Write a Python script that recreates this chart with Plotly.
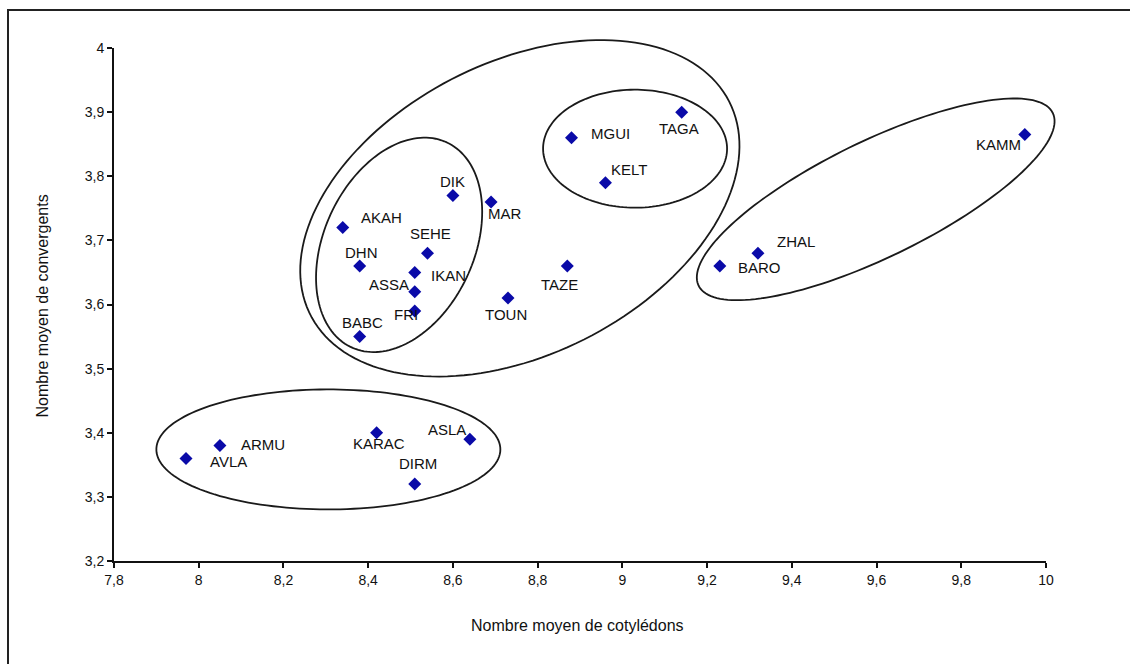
import numpy as np
import plotly.graph_objects as go

# Populations: mean cotyledon count vs mean convergent count
populations = ["AVLA", "ARMU", "KARAC", "ASLA", "DIRM",
               "DIK", "MAR", "AKAH", "SEHE", "DHN", "IKAN", "ASSA", "FRI", "BABC",
               "TOUN", "TAZE", "MGUI", "TAGA", "KELT", "KAMM", "ZHAL", "BARO"]
cotyledons = [7.97, 8.05, 8.42, 8.64, 8.51,
              8.60, 8.69, 8.34, 8.54, 8.38, 8.51, 8.51, 8.51, 8.38,
              8.73, 8.87, 8.88, 9.14, 8.96, 9.95, 9.32, 9.23]
convergents = [3.36, 3.38, 3.40, 3.39, 3.32,
               3.77, 3.76, 3.72, 3.68, 3.66, 3.65, 3.62, 3.59, 3.55,
               3.61, 3.66, 3.86, 3.90, 3.79, 3.865, 3.68, 3.66]

x_ticks = [7.8, 8.0, 8.2, 8.4, 8.6, 8.8, 9.0, 9.2, 9.4, 9.6, 9.8, 10.0]
y_ticks = [3.2, 3.3, 3.4, 3.5, 3.6, 3.7, 3.8, 3.9, 4.0]

# Label offsets from each marker, in pixels (dx right, dy up)
LABEL_SHIFT = {
    "AVLA": (42, -3), "ARMU": (43, 1), "KARAC": (2, -11), "ASLA": (-23, 10),
    "DIRM": (3, 21), "DIK": (0, 14), "MAR": (14, -12), "AKAH": (39, 10),
    "SEHE": (3, 20), "DHN": (2, 14), "IKAN": (34, -3), "ASSA": (-26, 7),
    "FRI": (-9, -4), "BABC": (3, 14), "TOUN": (-2, -16), "TAZE": (-8, -18),
    "MGUI": (39, 4), "TAGA": (-3, -16), "KELT": (24, 13), "KAMM": (-26, -10),
    "ZHAL": (38, 12), "BARO": (40, -1),
}

# Group outlines: centre (data units), semi-axes (pixels), tilt (degrees)
GROUPS = [
    (8.758, 3.750, 235, 146, 27),
    (8.473, 3.693, 113, 75, 65),
    (9.030, 3.843, 92, 59, 0),
    (9.598, 3.764, 197, 58, 26),
    (8.306, 3.374, 172, 60, 0),
]

W, H = 1130, 664
M_L, M_R, M_T, M_B = 114, 84, 48, 103
PW, PH = W - M_L - M_R, H - M_T - M_B
X_RANGE = (7.8, 10.0)
Y_RANGE = (3.2, 4.0)


def ellipse_path(cx, cy, a, b, ang, n=160):
    # built in paper coordinates so the outline may leave the plotting area
    t = np.linspace(0, 2 * np.pi, n)
    th = np.radians(ang)
    dx = a * np.cos(th) * np.cos(t) - b * np.sin(th) * np.sin(t)
    dy = a * np.sin(th) * np.cos(t) + b * np.cos(th) * np.sin(t)
    px0 = (cx - X_RANGE[0]) / (X_RANGE[1] - X_RANGE[0])
    py0 = (cy - Y_RANGE[0]) / (Y_RANGE[1] - Y_RANGE[0])
    xs = px0 + dx / PW
    ys = py0 + dy / PH
    pts = [f"{x:.5f},{y:.5f}" for x, y in zip(xs, ys)]
    return "M " + " L ".join(pts) + " Z"


fig = go.Figure()
fig.add_trace(go.Scatter(
    x=cotyledons, y=convergents, mode="markers",
    marker=dict(symbol="diamond", size=10, color="#0A0AA8"),
    hoverinfo="text", text=populations, showlegend=False, cliponaxis=False,
))

shapes = []
for cx, cy, a, b, ang in GROUPS:
    shapes.append(dict(type="path", xref="paper", yref="paper",
                       path=ellipse_path(cx, cy, a, b, ang),
                       line=dict(color="#1a1a1a", width=1.8)))
# outer frame
shapes.append(dict(type="rect", xref="paper", yref="paper",
                   x0=(8 - M_L) / PW, x1=(1140 - M_L) / PW,
                   y0=(M_T + PH - 680) / PH,
                   y1=(M_T + PH - 10) / PH,
                   line=dict(color="#222222", width=2)))

annotations = []
for name, xv, yv in zip(populations, cotyledons, convergents):
    dx, dy = LABEL_SHIFT[name]
    annotations.append(dict(x=xv, y=yv, xref="x", yref="y", text=name,
                            showarrow=False, xshift=dx, yshift=dy,
                            font=dict(family="Liberation Sans, Arial", size=15,
                                      color="#111111")))
annotations.append(dict(x=0.497, y=-0.146, xref="paper", yref="paper",
                        text="Nombre moyen de cotylédons", showarrow=False,
                        font=dict(family="Liberation Sans, Arial", size=16, color="#111")))
annotations.append(dict(x=-0.088, y=0.497, xref="paper", yref="paper",
                        text="Nombre moyen de convergents", showarrow=False,
                        textangle=-90,
                        font=dict(family="Liberation Sans, Arial", size=16, color="#111")))

fig.update_layout(
    width=W, height=H,
    margin=dict(l=M_L, r=M_R, t=M_T, b=M_B),
    paper_bgcolor="white", plot_bgcolor="white",
    separators=", ",
    shapes=shapes, annotations=annotations,
    font=dict(family="Liberation Sans, Arial", size=14, color="#111"),
    xaxis=dict(range=list(X_RANGE), tickvals=x_ticks, showgrid=False, zeroline=False,
               showline=True, linecolor="#111", linewidth=2,
               ticks="outside", ticklen=5, tickwidth=1.5, tickcolor="#111"),
    yaxis=dict(range=list(Y_RANGE), tickvals=y_ticks, showgrid=False, zeroline=False,
               showline=True, linecolor="#111", linewidth=2,
               ticks="outside", ticklen=5, tickwidth=1.5, tickcolor="#111"),
)

fig.write_html("out.html")
